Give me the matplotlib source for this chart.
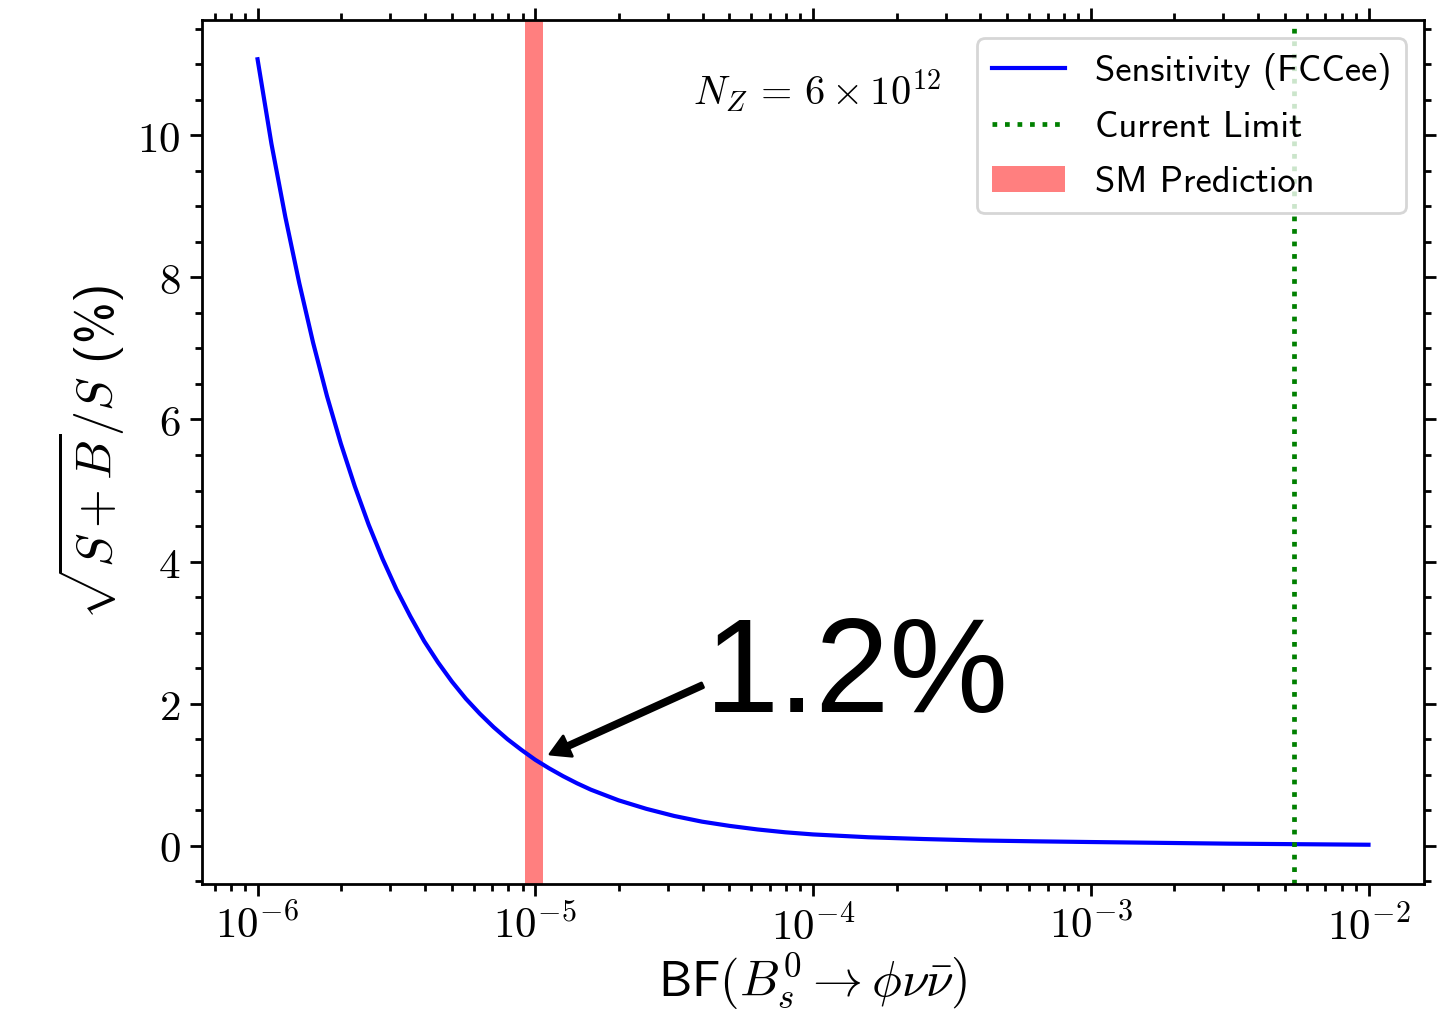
import numpy as np
import matplotlib
matplotlib.use("Agg")
import matplotlib.pyplot as plt
from matplotlib.ticker import FuncFormatter, NullFormatter, AutoMinorLocator

plt.rcParams["mathtext.fontset"] = "cm"
plt.rcParams["axes.unicode_minus"] = False

# sensitivity curve
bf = [1.0e-6, 1.122e-6, 1.259e-6, 1.413e-6, 1.585e-6, 1.778e-6, 1.995e-6,
      2.239e-6, 2.512e-6, 2.818e-6, 3.162e-6, 3.548e-6, 3.981e-6, 4.467e-6,
      5.012e-6, 5.623e-6, 6.31e-6, 7.079e-6, 7.943e-6, 8.913e-6, 1.0e-5,
      1.122e-5, 1.259e-5, 1.413e-5, 1.585e-5, 1.995e-5, 2.512e-5, 3.162e-5,
      3.981e-5, 5.012e-5, 6.31e-5, 7.943e-5, 1.0e-4, 1.585e-4, 2.512e-4,
      3.981e-4, 6.31e-4, 1.0e-3, 3.162e-3, 1.0e-2]
sens = [11.07, 9.88, 8.85, 7.92, 7.08, 6.33, 5.66,
        5.06, 4.52, 4.04, 3.61, 3.23, 2.88, 2.58,
        2.31, 2.07, 1.86, 1.67, 1.50, 1.35, 1.21,
        1.09, 0.98, 0.88, 0.79, 0.64, 0.52, 0.42,
        0.34, 0.28, 0.23, 0.19, 0.16, 0.12, 0.095,
        0.075, 0.063, 0.053, 0.03, 0.015]

sm_low, sm_high = 9.21e-6, 1.065e-5
current_limit = 5.4e-3
sm_point = (1.13e-5, 1.29)
label_pos = (4.0e-5, 2.26)
text_pos = (4.09e-5, 1.89)

sans = ["cmss10", "DejaVu Sans"]

fig = plt.figure(figsize=(7.225, 5.07), dpi=200)
ax = fig.add_axes([0.1398, 0.1282, 0.8457, 0.8521])

ax.plot(bf, sens, color="blue", lw=1.5, label="Sensitivity (FCCee)")
ax.axvline(current_limit, color="green", ls=":", lw=1.7, label="Current Limit")
ax.axvspan(sm_low, sm_high, color="red", alpha=0.5, lw=0, label="SM Prediction")
ax.set_xscale("log")

ax.annotate("", xy=sm_point, xytext=label_pos,
            arrowprops=dict(facecolor="black", edgecolor="black",
                            width=1.8, headwidth=8, headlength=7))
ax.text(*text_pos, "1.2%", fontsize=48, family="Liberation Sans",
        ha="left", va="baseline")
ax.text(0.402, 0.9016, r"$N_Z\,=\,6\times10^{12}$", transform=ax.transAxes,
        fontsize=14.5, ha="left", va="baseline")

ax.xaxis.set_major_formatter(FuncFormatter(lambda v, p: r"$10^{%d}$" % round(np.log10(v))))
ax.xaxis.set_minor_formatter(NullFormatter())
ax.yaxis.set_major_formatter(FuncFormatter(lambda v, p: r"$%d$" % round(v)))
ax.yaxis.set_minor_locator(AutoMinorLocator(4))

ax.tick_params(which="both", direction="out", top=True, right=True, width=1)
ax.tick_params(which="major", length=4.2, labelsize=15.5)
ax.tick_params(which="minor", length=2.6)
for s in ax.spines.values():
    s.set_linewidth(1)

ax.set_xlabel(r"BF$(B_s^0 \to \phi\nu\bar{\nu})$", fontsize=18, family=sans, labelpad=1)
ax.set_ylabel(r"$\sqrt{S+B}/S$ (%)", fontsize=18, family=sans)

ax.legend(loc="upper right", prop={"family": sans, "size": 13.2}, labelspacing=0.58)

fig.savefig("out.png", dpi=200)
